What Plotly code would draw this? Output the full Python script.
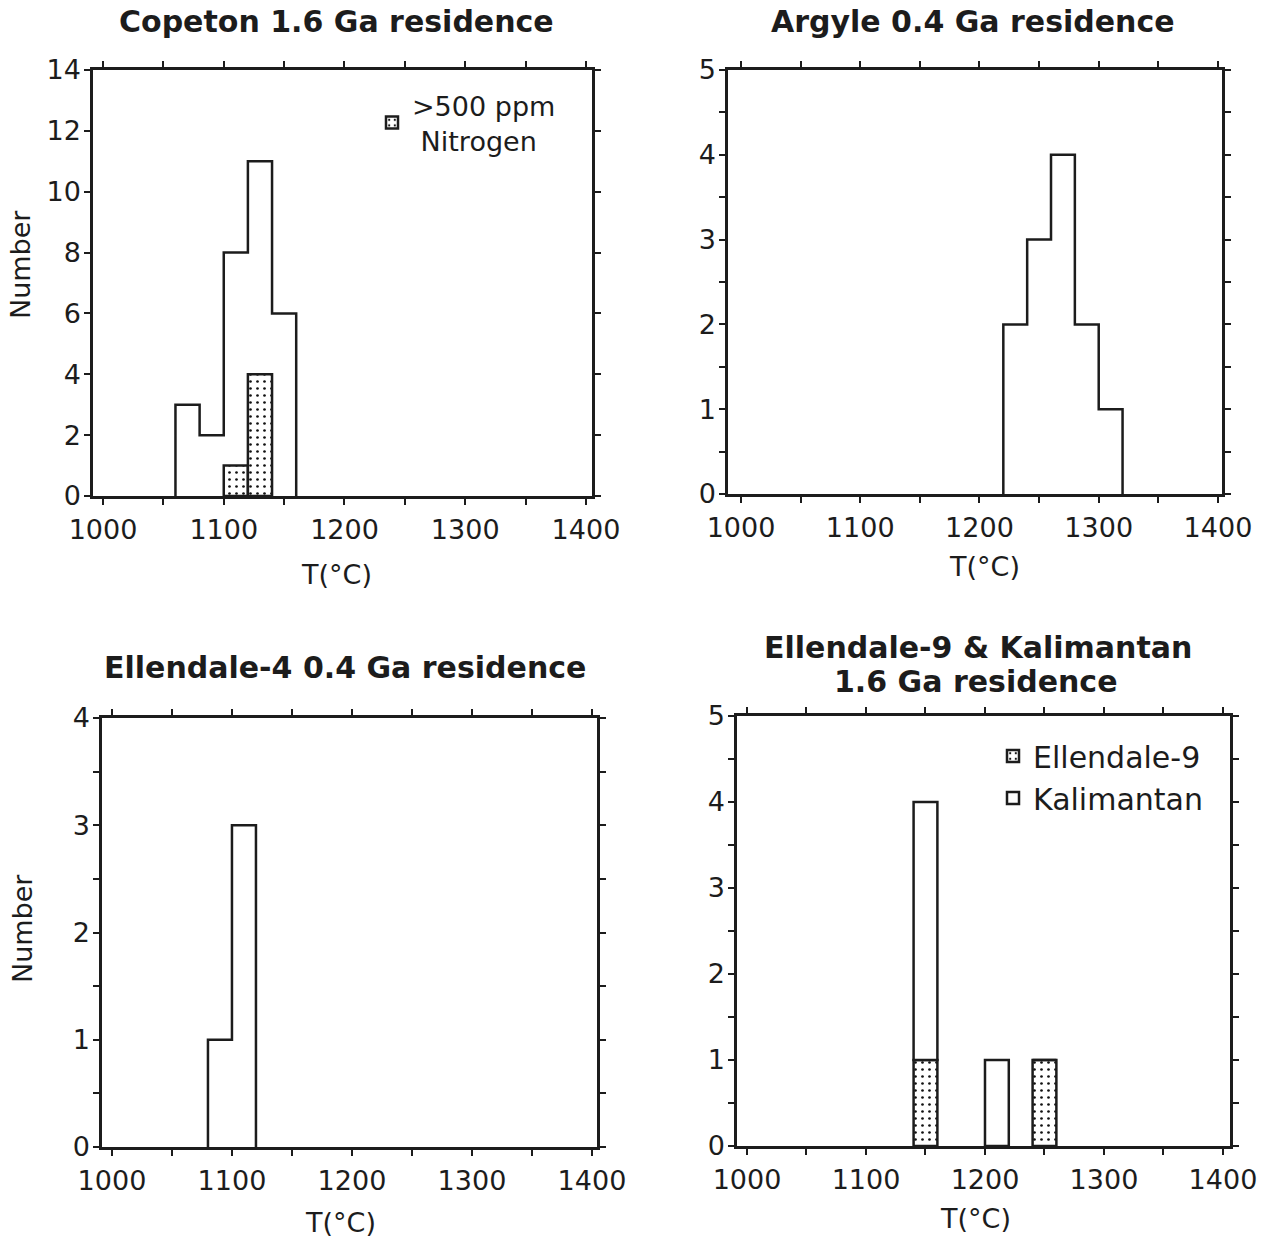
import plotly.graph_objects as go

# ---------------------------------------------------------------------------
# Histogram data: temperature bins (left edge, degC) and counts per bin
# ---------------------------------------------------------------------------
BIN_WIDTH = 20

copeton_bins = [1060, 1080, 1100, 1120, 1140]
copeton_counts = [3, 2, 8, 11, 6]
copeton_n_bins = [1100, 1120]          # >500 ppm nitrogen subset
copeton_n_counts = [1, 4]

argyle_bins = [1220, 1240, 1260, 1280, 1300]
argyle_counts = [2, 3, 4, 2, 1]

ell4_bins = [1080, 1100]
ell4_counts = [1, 3]

ek_bins = [1140, 1200, 1240]
ell9_counts = [1, 0, 1]
kal_counts = [3, 1, 0]

panel_titles = [
    ["Copeton 1.6 Ga residence"],
    ["Argyle 0.4 Ga residence"],
    ["Ellendale-4 0.4 Ga residence"],
    ["Ellendale-9 & Kalimantan", "1.6 Ga residence"],
]
x_title = "T(°C)"
y_title = "Number"
x_ticks = [1000, 1100, 1200, 1300, 1400]

# ---------------------------------------------------------------------------
# Layout geometry (pixels)
# ---------------------------------------------------------------------------
W, H = 1270, 1237
FONT = "DejaVu Sans"
INK = "#1c1c1c"

# (left, right, top, bottom) of each plot box in pixels, plus x and y ranges
boxes = [
    (93, 592, 70, 496, [991.7, 1405.0], [0, 14]),
    (728, 1222, 70, 494, [989.1, 1403.4], [0, 5]),
    (102, 597, 718, 1147, [991.7, 1404.2], [0, 4]),
    (737, 1230, 716, 1146, [991.6, 1405.9], [0, 5]),
]


def px_x(v):
    return v / W


def px_y(v):
    return 1 - v / H


def step_outline(bins, counts):
    """Outline of a histogram as a step path from bin edges and counts."""
    edges = list(bins) + [bins[-1] + BIN_WIDTH]
    xs = [edges[0]] + edges[:-1] + [edges[-1]]
    ys = [0] + list(counts) + [0]
    return xs, ys


def centers(bins):
    return [b + BIN_WIDTH / 2 for b in bins]


stipple = dict(shape=".", fgcolor="#111111", bgcolor="white",
               size=7, solidity=0.12, fillmode="replace")

fig = go.Figure()

# --- Copeton ---------------------------------------------------------------
fig.add_trace(go.Bar(
    x=centers(copeton_n_bins), y=copeton_n_counts, width=BIN_WIDTH,
    marker=dict(color="white", pattern=stipple,
                line=dict(color=INK, width=2.5)),
    name=">500 ppm<br> Nitrogen", legend="legend",
    xaxis="x", yaxis="y",
))
xs, ys = step_outline(copeton_bins, copeton_counts)
fig.add_trace(go.Scatter(
    x=xs, y=ys, mode="lines", line=dict(color=INK, width=2.5, shape="hv"),
    showlegend=False, xaxis="x", yaxis="y",
))

# --- Argyle ----------------------------------------------------------------
xs, ys = step_outline(argyle_bins, argyle_counts)
fig.add_trace(go.Scatter(
    x=xs, y=ys, mode="lines", line=dict(color=INK, width=2.5, shape="hv"),
    showlegend=False, xaxis="x2", yaxis="y2",
))

# --- Ellendale-4 -----------------------------------------------------------
xs, ys = step_outline(ell4_bins, ell4_counts)
fig.add_trace(go.Scatter(
    x=xs, y=ys, mode="lines", line=dict(color=INK, width=2.5, shape="hv"),
    showlegend=False, xaxis="x3", yaxis="y3",
))

# --- Ellendale-9 & Kalimantan (stacked) ------------------------------------
fig.add_trace(go.Bar(
    x=centers(ek_bins), y=ell9_counts, width=BIN_WIDTH,
    marker=dict(color="white", pattern=stipple,
                line=dict(color=INK, width=2.5)),
    name="Ellendale-9", legend="legend2",
    xaxis="x4", yaxis="y4",
))
fig.add_trace(go.Bar(
    x=centers(ek_bins), y=kal_counts, base=ell9_counts, width=BIN_WIDTH,
    marker=dict(color="white", line=dict(color=INK, width=2.5)),
    name="Kalimantan", legend="legend2",
    xaxis="x4", yaxis="y4",
))

# ---------------------------------------------------------------------------
# Axes
# ---------------------------------------------------------------------------
tick_font = dict(family=FONT, size=27, color=INK)
layout_axes = {}
for i, (l, r, t, b, xr, yr) in enumerate(boxes, start=1):
    sx = "" if i == 1 else str(i)
    common = dict(
        showline=True, linecolor=INK, linewidth=2.5, mirror="ticks",
        ticks="outside", ticklen=6, tickwidth=2, tickcolor=INK,
        showgrid=False, zeroline=False, tickfont=tick_font,
        fixedrange=True, automargin=False,
    )
    layout_axes["xaxis" + sx] = dict(
        common, domain=[px_x(l), px_x(r)], range=xr,
        anchor="y" + sx, tickmode="array", tickvals=x_ticks,
        minor=dict(dtick=50, tick0=1000, ticks="outside", ticklen=6,
                   tickwidth=2, tickcolor=INK),
        ticklabelstandoff=2,
    )
    ydef = dict(
        common, domain=[px_y(b), px_y(t)], range=yr,
        anchor="x" + sx, ticklabelstandoff=-2,
    )
    if i == 1:
        ydef.update(dtick=2, tick0=0)
    else:
        ydef.update(dtick=1, tick0=0,
                    minor=dict(dtick=0.5, ticks="outside", ticklen=6,
                               tickwidth=2, tickcolor=INK))
    layout_axes["yaxis" + sx] = ydef

# ---------------------------------------------------------------------------
# Titles and axis labels
# ---------------------------------------------------------------------------
title_font = dict(family=FONT, size=30, color=INK)
label_font = dict(family=FONT, size=27, color=INK)
annotations = []
# centre of each title line, per panel
title_pos = [[(336, 21)], [(973, 21)], [(345, 667)],
             [(978, 647), (976, 681)]]
for lines, positions in zip(panel_titles, title_pos):
    for text, (cx, cy) in zip(lines, positions):
        annotations.append(dict(
            text="<b>" + text + "</b>",
            x=px_x(cx), y=px_y(cy), xref="paper", yref="paper",
            xanchor="center", yanchor="middle", showarrow=False,
            font=title_font,
        ))
for cx, cy in [(336, 574), (984, 567), (340, 1222), (975, 1218)]:
    annotations.append(dict(
        text=x_title, x=px_x(cx), y=px_y(cy), xref="paper", yref="paper",
        xanchor="center", yanchor="middle", showarrow=False, font=label_font,
    ))
for cx, cy in [(20, 265), (22, 929)]:
    annotations.append(dict(
        text=y_title, x=px_x(cx), y=px_y(cy), xref="paper", yref="paper",
        xanchor="center", yanchor="middle", showarrow=False, textangle=-90,
        font=label_font,
    ))

fig.update_layout(
    width=W, height=H,
    margin=dict(l=0, r=0, t=0, b=0, pad=0, autoexpand=False),
    paper_bgcolor="white", plot_bgcolor="white",
    barmode="overlay",
    showlegend=True,
    legend=dict(x=px_x(372), y=px_y(81), xanchor="left", yanchor="top",
                bgcolor="rgba(0,0,0,0)",
                font=dict(family=FONT, size=27, color=INK),
                itemclick=False, itemdoubleclick=False),
    legend2=dict(x=px_x(993), y=px_y(730), xanchor="left", yanchor="top",
                 bgcolor="rgba(0,0,0,0)",
                 font=dict(family=FONT, size=30, color=INK),
                 traceorder="normal",
                 itemclick=False, itemdoubleclick=False),
    annotations=annotations,
    **layout_axes,
)

fig.write_html("out.html")
